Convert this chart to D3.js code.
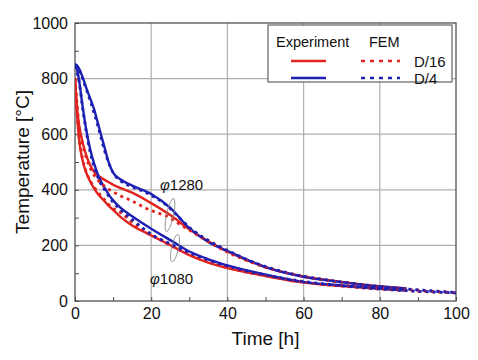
<!DOCTYPE html>
<html><head><meta charset="utf-8">
<script src="https://cdn.jsdelivr.net/npm/d3@7"></script>
<style>body{margin:0;background:#fff}svg{display:block}text{font-family:"Liberation Sans",Arial,sans-serif;fill:#111}</style>
</head><body><svg id="c" width="478" height="360"></svg>
<script>
const xTicks=[0,20,40,60,80,100];
const yTicks=[0,200,400,600,800,1000];
const timeExp=[0,0.5,1,2,3,4,5,6,7,8,9,10,12,15,20,25,30,35,40,50,60,70,80,87];
const exp1280D4=[852,848,838,805,765,728,690,640,590,540,492,462,437,415,385,335,262,212,180,122,87,68,52,44];
const exp1280D16=[800,700,640,570,522,488,465,452,442,434,426,418,406,390,352,309,258,215,178,122,88,69,53,45];
const exp1080D4=[848,835,800,700,612,545,495,455,425,402,380,362,335,305,260,219,178,150,128,95,68,56,45,38];
const exp1080D16=[800,680,590,505,460,430,405,385,370,355,340,328,302,272,236,201,165,138,118,90,66,54,44,38];
const timeFEM=[0,1,2,3,4,6,8,10,12,15,18,21,24,27,30,35,40,45,50,55,60,65,70,75,80,85,90,95,100];
const fem1280D4=[850,832,800,760,720,630,530,462,432,410,394,372,345,305,265,218,182,150,124,104,89,78,68,60,52,46,40,35,31];
const fem1280D16=[800,640,565,515,478,436,410,393,378,360,338,320,306,280,255,213,176,146,121,103,88,77,67,59,51,45,39,34,30];
const fem1080D4=[845,795,695,605,535,445,395,355,328,293,260,232,212,192,174,148,126,108,94,81,70,62,55,49,44,39,35,32,29];
const fem1080D16=[800,600,510,462,432,392,360,333,318,283,252,230,208,186,167,140,120,104,91,79,68,60,54,48,43,39,35,32,29];
const RED="#e3231f", BLUE="#1d20b2";

const svg=d3.select("#c");
const L=75,R=456,T=23,B=301;
const x=d3.scaleLinear().domain([0,100]).range([L,R]);
const y=d3.scaleLinear().domain([0,1000]).range([B,T]);

const g=svg.append("g");
g.selectAll(".gx").data(xTicks.slice(1,-1)).join("line").attr("x1",d=>x(d)).attr("x2",d=>x(d)).attr("y1",T).attr("y2",B).attr("stroke","#b0b0b0").attr("stroke-width",1.2);
g.selectAll(".gy").data(yTicks.slice(1,-1)).join("line").attr("y1",d=>y(d)).attr("y2",d=>y(d)).attr("x1",L).attr("x2",R).attr("stroke","#b0b0b0").attr("stroke-width",1.2);

const xa=svg.append("g").attr("transform",`translate(0,${B})`).call(d3.axisBottom(x).tickValues(d3.range(0,101,10)).tickSize(-4).tickPadding(7).tickFormat(d=>xTicks.includes(d)?d:""));
const ya=svg.append("g").attr("transform",`translate(${L},0)`).call(d3.axisLeft(y).tickValues(d3.range(0,1001,100)).tickSize(-4).tickPadding(7).tickFormat(d=>yTicks.includes(d)?d:""));
[xa,ya].forEach(a=>{a.select(".domain").remove();a.selectAll("line").attr("stroke","#555");a.selectAll("text").attr("font-size",16).attr("fill","#111").attr("font-family","Liberation Sans, Arial, sans-serif");});
svg.append("rect").attr("x",L).attr("y",T).attr("width",R-L).attr("height",B-T).attr("fill","none").attr("stroke","#444").attr("stroke-width",1.2);

svg.append("text").attr("x",(L+R)/2).attr("y",345).attr("text-anchor","middle").attr("font-size",19).text("Time [h]");
svg.append("text").attr("transform",`translate(29,${(T+B)/2}) rotate(-90)`).attr("text-anchor","middle").attr("font-size",19).text("Temperature [°C]");

const line=(ts)=>d3.line().x((d,i)=>x(ts[i])).y(d=>y(d)).curve(d3.curveMonotoneX);
svg.append("clipPath").attr("id","cp").append("rect").attr("x",L).attr("y",T).attr("width",R-L).attr("height",B-T);
const pg=svg.append("g").attr("clip-path","url(#cp)");
[[exp1280D16,RED],[exp1080D16,RED],[exp1280D4,BLUE],[exp1080D4,BLUE]].forEach(([v,c])=>{
  pg.append("path").attr("d",line(timeExp)(v)).attr("fill","none").attr("stroke",c).attr("stroke-width",2.4);
});
[[fem1280D16,RED],[fem1080D16,RED],[fem1280D4,BLUE],[fem1080D4,BLUE]].forEach(([v,c])=>{
  pg.append("path").attr("d",line(timeFEM)(v)).attr("fill","none").attr("stroke",c).attr("stroke-width",2.8).attr("stroke-dasharray","3,4");
});

const ann=svg.append("g");
ann.append("ellipse").attr("cx",170).attr("cy",215).attr("rx",3.5).attr("ry",17).attr("transform","rotate(12,170,215)").attr("fill","none").attr("stroke","#888").attr("stroke-width",0.8);
ann.append("ellipse").attr("cx",175).attr("cy",248).attr("rx",3.5).attr("ry",14).attr("transform","rotate(12,175,248)").attr("fill","none").attr("stroke","#888").attr("stroke-width",0.8);
const t1=ann.append("text").attr("x",160).attr("y",190).attr("font-size",15);
t1.append("tspan").attr("font-style","italic").text("φ");t1.append("tspan").text("1280");
const t2=ann.append("text").attr("x",150).attr("y",284).attr("font-size",15);
t2.append("tspan").attr("font-style","italic").text("φ");t2.append("tspan").text("1080");

const lg=svg.append("g");
lg.append("rect").attr("x",268).attr("y",25).attr("width",184).attr("height",57).attr("fill","#fff").attr("stroke","#444").attr("stroke-width",1);
lg.append("text").attr("x",276).attr("y",47).attr("font-size",14.5).text("Experiment");
lg.append("text").attr("x",369).attr("y",47).attr("font-size",14.5).text("FEM");
lg.append("line").attr("x1",291).attr("x2",326).attr("y1",61).attr("y2",61).attr("stroke",RED).attr("stroke-width",2.4);
lg.append("line").attr("x1",291).attr("x2",326).attr("y1",78).attr("y2",78).attr("stroke",BLUE).attr("stroke-width",2.4);
lg.append("line").attr("x1",361).attr("x2",400).attr("y1",61).attr("y2",61).attr("stroke",RED).attr("stroke-width",2.6).attr("stroke-dasharray","4,5");
lg.append("line").attr("x1",361).attr("x2",400).attr("y1",78).attr("y2",78).attr("stroke",BLUE).attr("stroke-width",2.6).attr("stroke-dasharray","4,5");
lg.append("text").attr("x",414).attr("y",67).attr("font-size",15).text("D/16");
lg.append("text").attr("x",414).attr("y",84).attr("font-size",15).text("D/4");
</script></body></html>
